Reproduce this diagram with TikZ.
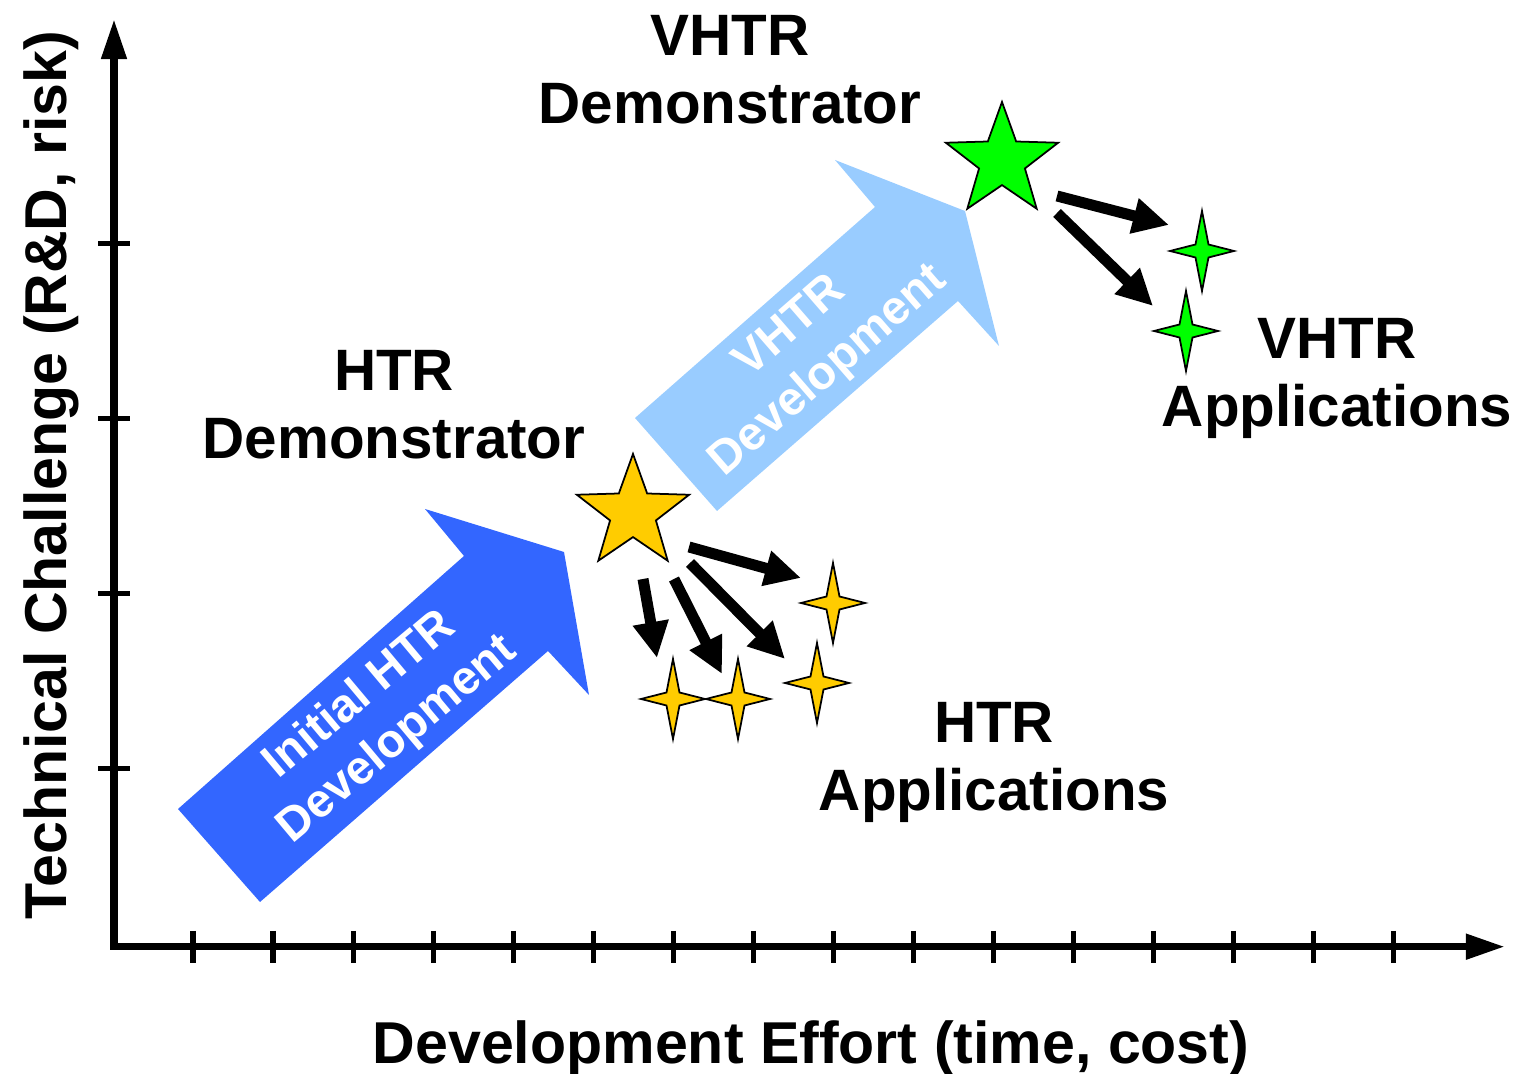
\documentclass[tikz,border=0pt]{standalone}
\usepackage{fontspec}
\setmainfont{Liberation Sans}
\usetikzlibrary{arrows.meta,shapes.geometric}
\definecolor{htrblue}{HTML}{3366FF}
\definecolor{vhtrblue}{HTML}{99CCFF}
\definecolor{htryellow}{HTML}{FFCC00}
\definecolor{vhtrgreen}{HTML}{00FF00}
% four pointed star: name, centre, fill
\newcommand{\sparkle}[3]{%
  \coordinate (#1) at (#2);
  \draw[starline, fill=#3, shift={(#2)}] (0,-40) -- (6.5,-6.5) -- (32,0) -- (6.5,6.5) -- (0,40) -- (-6.5,6.5) -- (-32,0) -- (-6.5,-6.5) -- cycle;
}
\begin{document}
\begin{tikzpicture}[x=0.01cm, y=-0.01cm,
  axis/.style={line width=0.075cm, {Triangle[length=0.4cm,width=0.24cm]}-{Triangle[length=0.39cm,width=0.24cm]}},
  axistick/.style={line width=0.05cm},
  starline/.style={line width=0.5pt, line join=miter},
  bigstar/.style={star, star points=5, star point ratio=2.45, minimum size=1.18cm, inner sep=0pt, outer sep=0pt, draw, starline},
  fatarrow/.style={line width=0.11cm, -{Triangle[length=0.36cm,width=0.34cm]}},
  bigtext/.style={font=\fontsize{16.6}{19.3}\selectfont\bfseries, align=center, inner sep=0pt},
  labeltext/.style={font=\fontsize{16.8}{19.3}\selectfont\bfseries, inner sep=0pt},
  arrowtext/.style={font=\fontsize{13.4}{16.5}\selectfont\bfseries, text=white, align=center, inner sep=0pt}]
\useasboundingbox (0,0) rectangle (1520,1074);
\coordinate (Origin)   at (114,946.7);
\coordinate (XAxisMax) at (1505,946.7);
\coordinate (YAxisMax) at (114,19);
\draw [axis] (YAxisMax) -- (Origin) -- (XAxisMax) ;% both axes
\foreach \x in {193,273,...,1393}
  \draw [axistick] (\x,931) -- (\x,963);
\foreach \y in {244,419,594,769}
  \draw [axistick] (98,\y) -- (130,\y);
\node[labeltext, anchor=base] (xlabel) at (811,1064) {Development Effort (time, cost)};
\node[labeltext, anchor=base, rotate=90] (ylabel) at (66,475) {Technical Challenge (R\&D, risk)};
% development arrows
\fill [htrblue] (178,809) -- (260,902) -- (548,651) -- (589,695) -- (564,552) -- (425,509) -- (464,556) -- cycle;
\fill [vhtrblue] (635,418) -- (717,511) -- (958,301) -- (999,346) -- (965,211) -- (835,160) -- (875,207) -- cycle;
\node[arrowtext, rotate=40] (htrDev) at (379,718) {Initial HTR\\Development};
\node[arrowtext, rotate=41] (vhtrDev) at (810,350) {VHTR\\Development};
% demonstrators
\node[bigstar, fill=htryellow] (htrStar) at (633,513) {};
\node[bigstar, fill=vhtrgreen] (vhtrStar) at (1002,161) {};
\node[bigtext, anchor=north] (vhtrDemo) at (730,15) {VHTR\\Demonstrator};
\node[bigtext, anchor=north] (htrDemo) at (394,350) {HTR\\Demonstrator};
% applications
\sparkle{htrAppA}{833,603}{htryellow}
\sparkle{htrAppB}{817,683}{htryellow}
\sparkle{htrAppC}{673,699}{htryellow}
\sparkle{htrAppD}{738,699}{htryellow}
\sparkle{vhtrAppA}{1202,251}{vhtrgreen}
\sparkle{vhtrAppB}{1186,331}{vhtrgreen}
\node[bigtext, anchor=north] (vhtrApps) at (1337,318) {VHTR\\Applications};
\node[bigtext, anchor=north] (htrApps) at (994,702) {HTR\\Applications};
\coordinate (htrOutA) at (689,547);  \coordinate (htrToA) at (801,578);
\coordinate (htrOutB) at (690,563);  \coordinate (htrToB) at (785,659);
\coordinate (htrOutC) at (674,579);  \coordinate (htrToC) at (722,674);
\coordinate (htrOutD) at (643,579);  \coordinate (htrToD) at (657,658);
\coordinate (vhtrOutA) at (1057,196); \coordinate (vhtrToA) at (1169,225);
\coordinate (vhtrOutB) at (1057,213); \coordinate (vhtrToB) at (1153,306);
\draw [fatarrow] (htrOutA) -- (htrToA);
\draw [fatarrow] (htrOutB) -- (htrToB);
\draw [fatarrow] (htrOutC) -- (htrToC);
\draw [fatarrow] (htrOutD) -- (htrToD);
\draw [fatarrow] (vhtrOutA) -- (vhtrToA);
\draw [fatarrow] (vhtrOutB) -- (vhtrToB);
\end{tikzpicture}
\end{document}
